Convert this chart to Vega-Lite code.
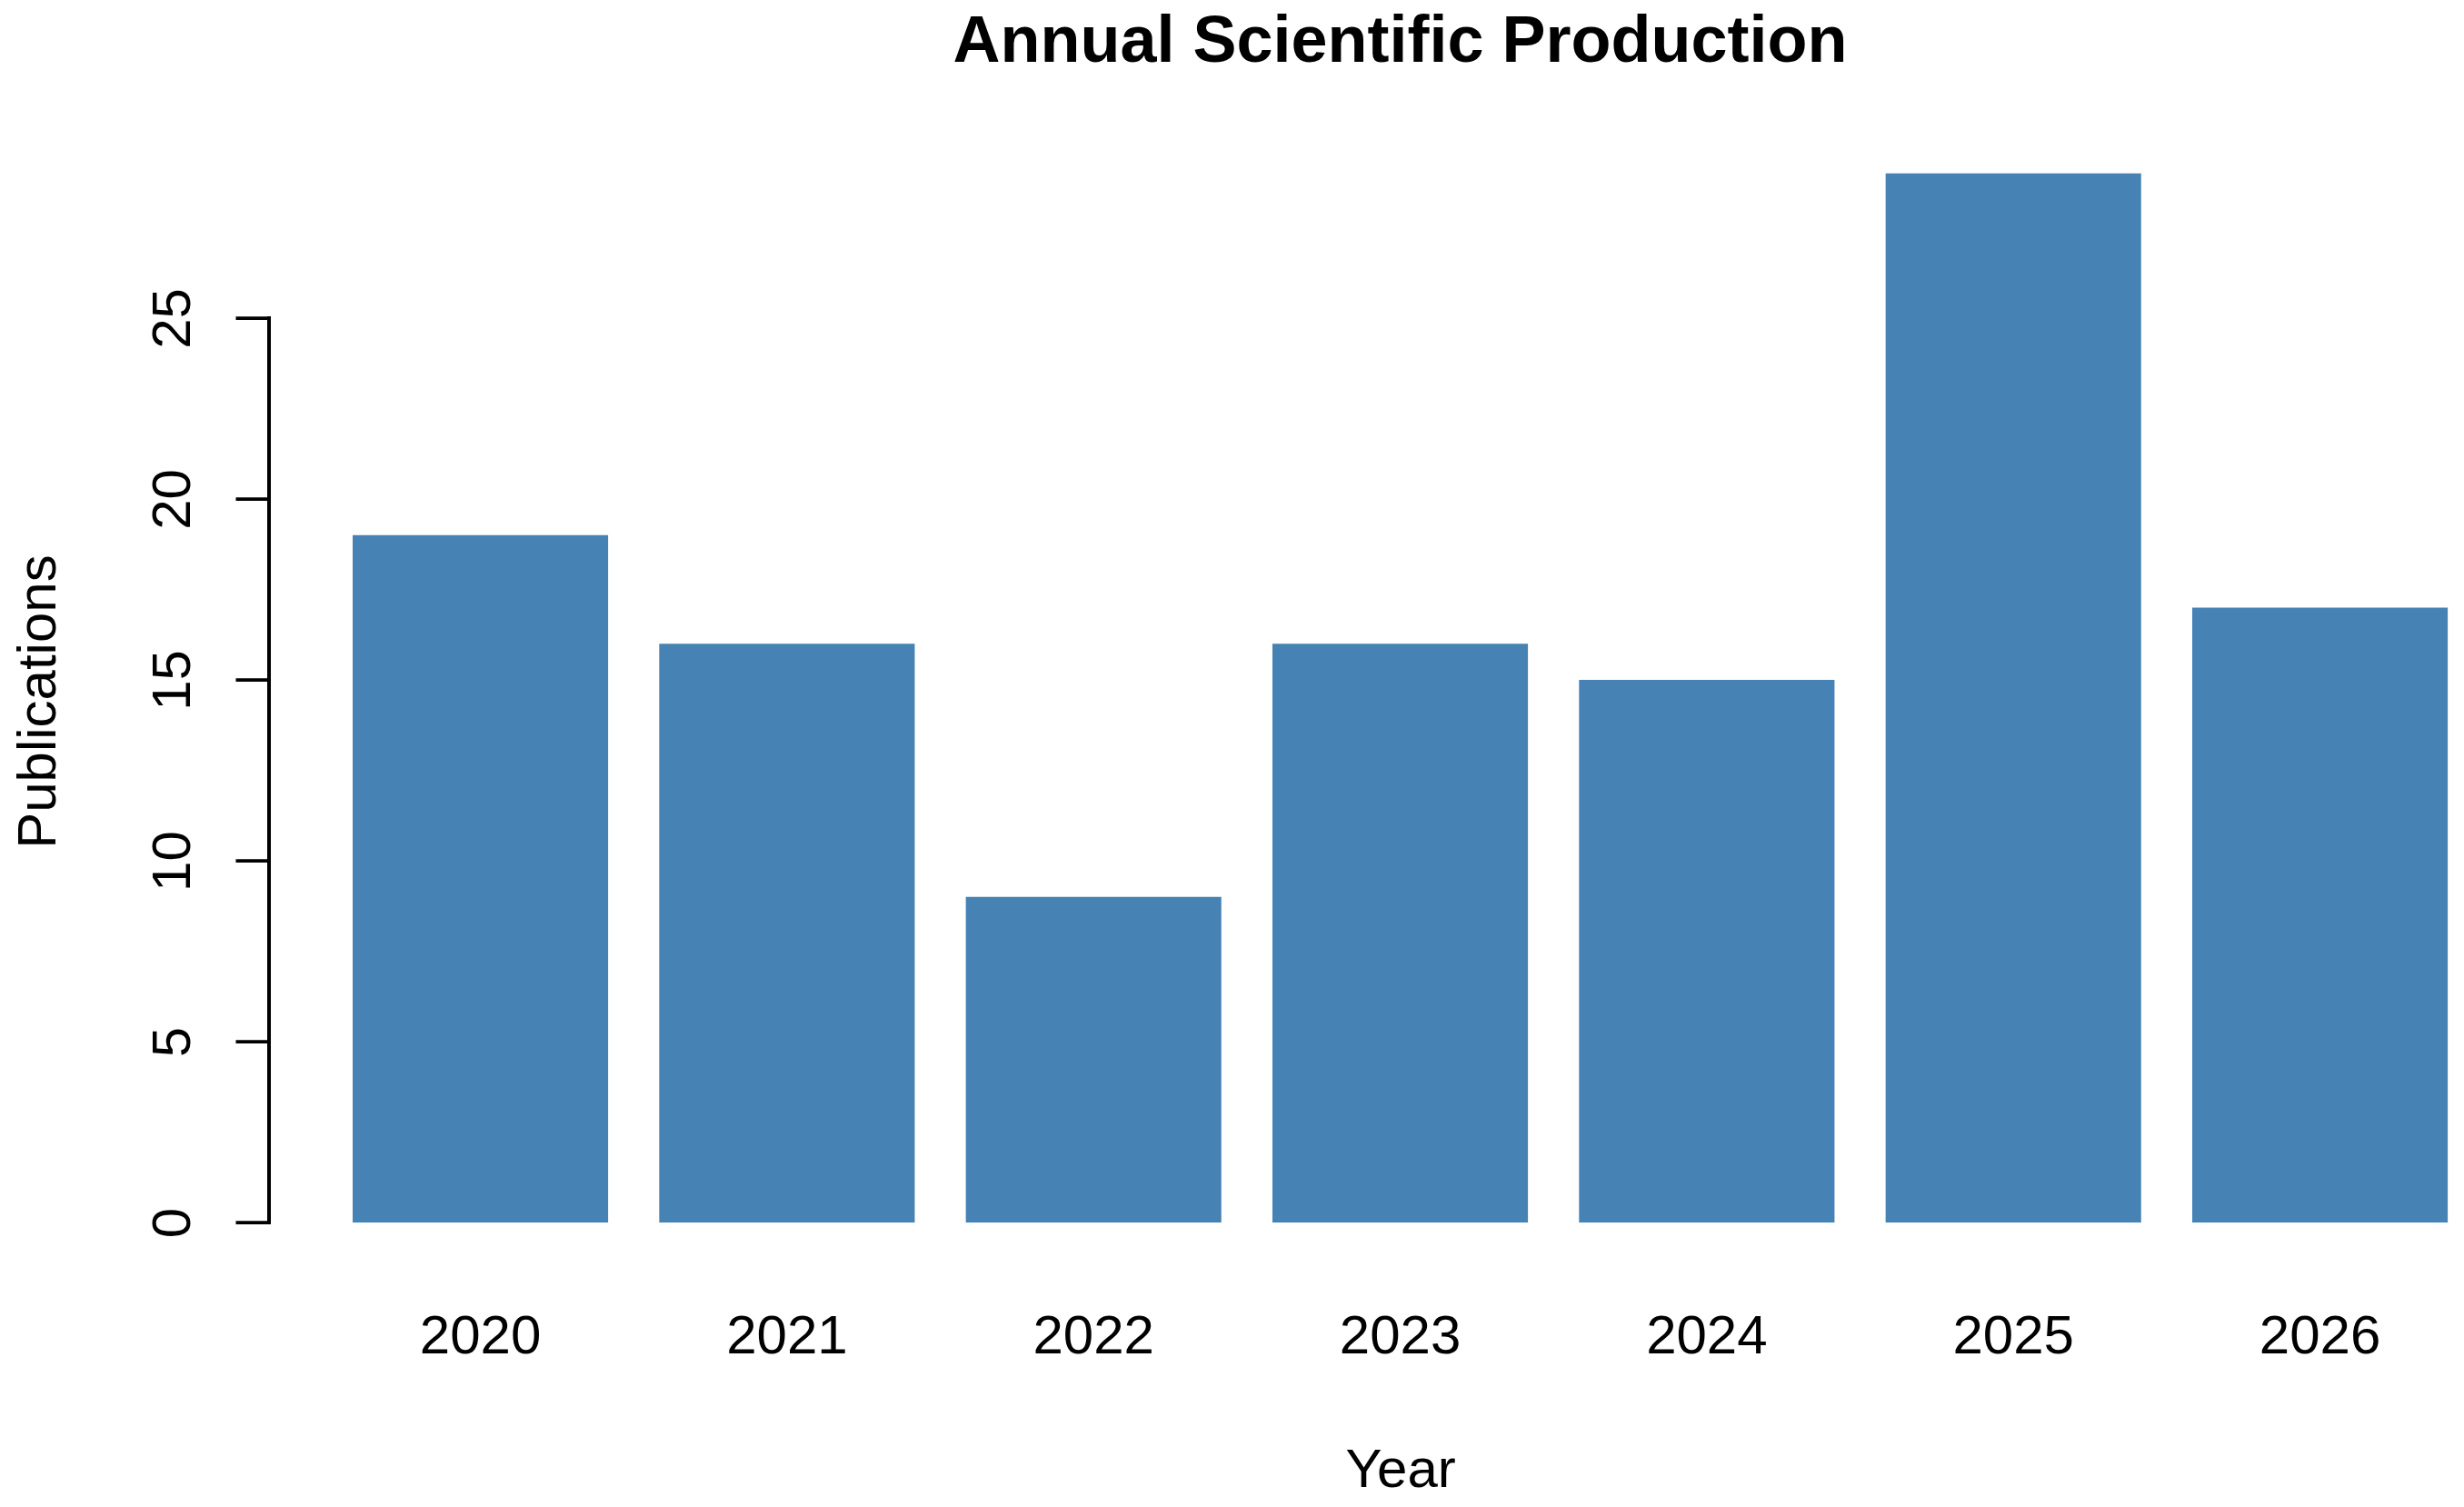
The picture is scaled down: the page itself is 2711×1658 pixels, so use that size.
{
  "$schema": "https://vega.github.io/schema/vega-lite/v6.json",
  "autosize": {"type": "none"},
  "padding": {"left": 296, "top": 144.6, "right": 0, "bottom": 266.8},
  "width": 2415,
  "height": 1246.6,
  "background": "white",
  "title": {
    "text": "Annual Scientific Production",
    "font": "Liberation Sans",
    "fontSize": 72,
    "fontWeight": "bold",
    "color": "black",
    "anchor": "middle",
    "frame": "group",
    "baseline": "alphabetic",
    "offset": 5,
    "dx": 37
  },
  "config": {
    "view": {"stroke": null},
    "axis": {
      "labelFont": "Liberation Sans",
      "labelFontSize": 60,
      "labelColor": "black",
      "titleFont": "Liberation Sans",
      "titleFontSize": 60,
      "titleFontWeight": "normal",
      "titleColor": "black",
      "grid": false
    }
  },
  "data": {
    "values": [
      {"Year": "2020", "Publications": 19},
      {"Year": "2021", "Publications": 16},
      {"Year": "2022", "Publications": 9},
      {"Year": "2023", "Publications": 16},
      {"Year": "2024", "Publications": 15},
      {"Year": "2025", "Publications": 29},
      {"Year": "2026", "Publications": 17}
    ]
  },
  "layer": [
    {
      "mark": {"type": "bar", "color": "#4682b4"},
      "encoding": {
        "x": {
          "field": "Year",
          "type": "ordinal",
          "scale": {"paddingInner": 0.16667, "paddingOuter": 0.1629, "align": 0.837},
          "axis": {
            "title": "Year",
            "domain": false,
            "ticks": false,
            "tickSize": 0,
            "labelAngle": 0,
            "labelPadding": 97,
            "labelBaseline": "alphabetic",
            "titleX": 1244.7,
            "titleY": 244,
            "titleBaseline": "alphabetic",
            "titleAlign": "center"
          }
        },
        "y": {
          "field": "Publications",
          "type": "quantitative",
          "scale": {"domain": [-1.16, 30.16], "nice": false, "zero": false},
          "axis": {
            "title": "Publications",
            "values": [0, 5, 10, 15, 20, 25],
            "domain": false,
            "ticks": true,
            "tickSize": 37,
            "tickWidth": 3.75,
            "tickColor": "black",
            "labelAngle": -90,
            "labelAlign": "center",
            "labelBaseline": "alphabetic",
            "labelPadding": 51,
            "titleAngle": -90,
            "titleX": -236,
            "titleY": 627,
            "titleAlign": "center",
            "titleBaseline": "alphabetic"
          }
        },
        "y2": {"datum": 0}
      }
    },
    {
      "mark": {"type": "rule", "color": "black", "strokeWidth": 3.75, "strokeCap": "square"},
      "encoding": {
        "x": {"datum": 0, "type": "quantitative", "scale": {"domain": [0, 1]}, "axis": null},
        "y": {"datum": 0},
        "y2": {"datum": 25}
      }
    }
  ],
  "resolve": {"scale": {"x": "independent"}}
}
